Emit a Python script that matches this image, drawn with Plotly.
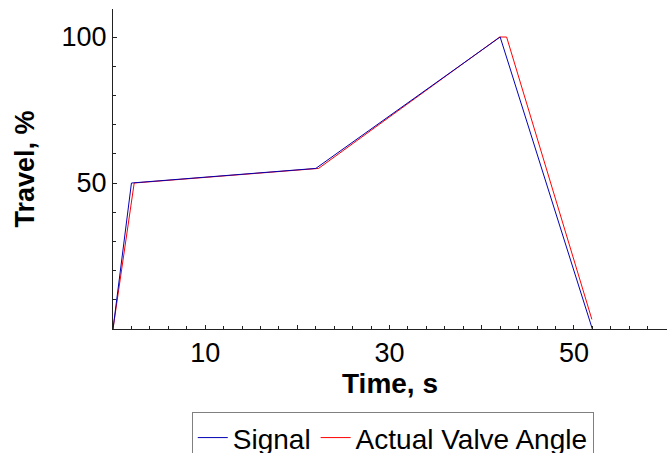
import plotly.graph_objects as go

signal_t = [0, 2, 22, 42, 52]
signal_v = [0, 50, 55, 100, 0]
valve_t = [0, 2.3, 22.3, 41.95, 42.7, 51.95]
valve_v = [0, 50, 55, 100, 100, 3.3]

x_tickvals = [0, 10, 20, 30, 40, 50, 60]
x_ticktext = ["", "10", "", "30", "", "50", ""]
y_tickvals = [50, 100]
y_ticktext = ["50", "100"]

FONT = "Liberation Sans, Arial, sans-serif"
AX = "#222222"
FS = 27

fig = go.Figure()
fig.add_trace(go.Scatter(x=valve_t, y=valve_v, mode="lines", name="Actual Valve Angle",
                         line=dict(color="#FF0000", width=1), legendrank=2))
fig.add_trace(go.Scatter(x=signal_t, y=signal_v, mode="lines", name="Signal",
                         line=dict(color="#0000B4", width=1), legendrank=1))

xr = [0, 60.1]
yr = [0, 109.6]

fig.update_layout(
    width=668, height=453,
    margin=dict(l=113, r=1, t=9, b=124, autoexpand=False),
    paper_bgcolor="white", plot_bgcolor="white",
    font=dict(family=FONT, size=FS, color="black"),
    showlegend=True,
    legend=dict(orientation="h", x=0.505, xanchor="center", y=-0.259, yanchor="top",
                bordercolor="#808080", borderwidth=1, font=dict(size=28),
                itemwidth=30, tracegroupgap=0),
    xaxis=dict(range=xr, showgrid=False, zeroline=False, showline=True, linecolor=AX, linewidth=1,
               tickmode="array", tickvals=x_tickvals, ticktext=x_ticktext,
               ticks="inside", ticklen=4, tickcolor=AX, tickwidth=1,
               minor=dict(dtick=2, ticks="inside", ticklen=3, tickcolor=AX, showgrid=False),
               tickfont=dict(size=FS),
               title=dict(text="<b>Time, s</b>", font=dict(size=28), standoff=5)),
    yaxis=dict(range=yr, showgrid=False, zeroline=False, showline=True, linecolor=AX, linewidth=1,
               tickmode="array", tickvals=y_tickvals, ticktext=y_ticktext,
               ticks="inside", ticklen=4, tickcolor=AX, tickwidth=1,
               minor=dict(dtick=10, ticks="inside", ticklen=3, tickcolor=AX, showgrid=False),
               tickfont=dict(size=FS),
               title=dict(text="<b>Travel, %</b>", font=dict(size=FS), standoff=19)),
    xaxis2=dict(range=xr, overlaying="x", anchor="y", side="bottom", showgrid=False, zeroline=False,
                showline=False, showticklabels=False, tickmode="array", tickvals=x_tickvals,
                ticks="outside", ticklen=4, tickcolor=AX, tickwidth=1,
                minor=dict(dtick=2, ticks="outside", ticklen=3, tickcolor=AX, showgrid=False)),
    yaxis2=dict(range=yr, overlaying="y", anchor="x", side="left", showgrid=False, zeroline=False,
                showline=False, showticklabels=False, tickmode="array", tickvals=y_tickvals,
                ticks="outside", ticklen=4, tickcolor=AX, tickwidth=1,
                minor=dict(dtick=10, ticks="outside", ticklen=3, tickcolor=AX, showgrid=False)),
)

fig.write_html("out.html")
